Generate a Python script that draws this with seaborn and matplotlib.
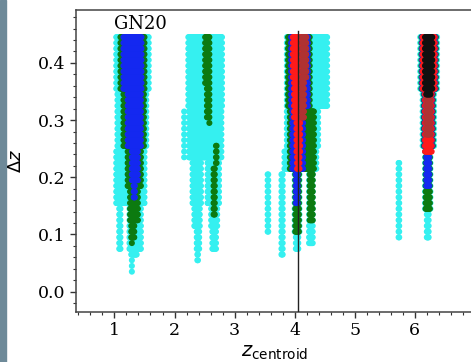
import numpy as np
import pandas as pd
import matplotlib
matplotlib.use("Agg")
import matplotlib.pyplot as plt
import seaborn as sns
from matplotlib.ticker import MultipleLocator
from matplotlib.patches import Rectangle

# ---------------- data ----------------
# Each block: (dz_top, dz_bottom, z_left, z_right) of the point centres on the
# (z_centroid, dz) grid (grid step 0.01 in both directions).
cyan_blocks = [
    # cluster near z~1.3
    (0.445, 0.355, 1.03, 1.57),
    (0.345, 0.255, 1.05, 1.53),
    (0.245, 0.155, 1.03, 1.50),
    (0.145, 0.075, 1.08, 1.10),
    (0.145, 0.075, 1.25, 1.44),
    (0.065, 0.065, 1.28, 1.37),
    (0.055, 0.035, 1.29, 1.29),
    # cluster near z~2.5
    (0.445, 0.325, 2.23, 2.79),
    (0.315, 0.235, 2.16, 2.16),
    (0.315, 0.235, 2.24, 2.78),
    (0.225, 0.155, 2.30, 2.44),
    (0.225, 0.155, 2.55, 2.74),
    (0.145, 0.115, 2.33, 2.42),
    (0.145, 0.115, 2.61, 2.71),
    (0.105, 0.075, 2.37, 2.41),
    (0.105, 0.075, 2.63, 2.69),
    (0.065, 0.055, 2.38, 2.39),
    # cluster near z~4.1
    (0.445, 0.325, 3.87, 4.54),
    (0.315, 0.255, 3.87, 4.39),
    (0.245, 0.215, 3.83, 4.36),
    (0.205, 0.065, 3.78, 3.80),
    (0.205, 0.105, 3.55, 3.56),
    (0.205, 0.105, 4.00, 4.08),
    (0.095, 0.075, 4.02, 4.06),
    (0.205, 0.085, 4.24, 4.30),
    # cluster near z~6.2
    (0.445, 0.355, 6.09, 6.37),
    (0.345, 0.255, 6.13, 6.32),
    (0.245, 0.145, 6.17, 6.26),
    (0.135, 0.095, 6.20, 6.23),
    (0.225, 0.095, 5.73, 5.74),
]
green_blocks = [
    (0.445, 0.355, 1.10, 1.50),
    (0.345, 0.255, 1.15, 1.49),
    (0.245, 0.185, 1.22, 1.44),
    (0.175, 0.125, 1.26, 1.39),
    (0.115, 0.095, 1.28, 1.33),
    (0.085, 0.085, 1.29, 1.29),
    (0.445, 0.365, 2.51, 2.58),
    (0.355, 0.305, 2.54, 2.58),
    (0.295, 0.295, 2.58, 2.58),
    (0.255, 0.225, 2.69, 2.70),
    (0.215, 0.135, 2.65, 2.67),
    (0.445, 0.325, 3.89, 4.25),
    (0.315, 0.215, 3.92, 4.32),
    (0.205, 0.105, 4.01, 4.07),
    (0.205, 0.125, 4.25, 4.30),
    (0.445, 0.355, 6.11, 6.35),
    (0.345, 0.255, 6.15, 6.30),
    (0.245, 0.145, 6.18, 6.25),
]
blue_blocks = [
    (0.445, 0.355, 1.15, 1.45),
    (0.345, 0.255, 1.22, 1.44),
    (0.245, 0.195, 1.29, 1.39),
    (0.185, 0.165, 1.32, 1.34),
    (0.445, 0.325, 3.94, 4.22),
    (0.315, 0.215, 3.96, 4.14),
    (0.205, 0.155, 4.02, 4.05),
    (0.445, 0.355, 6.12, 6.34),
    (0.345, 0.255, 6.16, 6.29),
    (0.245, 0.185, 6.19, 6.24),
]
red_blocks = [
    (0.445, 0.375, 3.97, 4.19),
    (0.365, 0.305, 3.99, 4.15),
    (0.295, 0.245, 4.03, 4.09),
    (0.235, 0.215, 4.04, 4.08),
    (0.445, 0.355, 6.13, 6.33),
    (0.345, 0.245, 6.17, 6.28),
]
brown_blocks = [
    (0.445, 0.375, 4.12, 4.19),
    (0.365, 0.305, 4.11, 4.15),
    (0.335, 0.275, 6.19, 6.26),
]
black_blocks = [
    (0.445, 0.355, 6.17, 6.29),
    (0.345, 0.345, 6.19, 6.26),
]
z_gn20 = 4.06
line_top = 0.455

layer_names = ["cyan", "green", "blue", "red", "brown", "black"]
layer_blocks = [cyan_blocks, green_blocks, blue_blocks, red_blocks, brown_blocks, black_blocks]
palette = {"cyan": "#35f0f0", "green": "#0c7a10", "blue": "#1428f0",
           "red": "#ff1a1a", "brown": "#b03232", "black": "#101010"}

rows = []
for name, blocks in zip(layer_names, layer_blocks):
    for top, bot, xl, xr in blocks:
        for dz in np.arange(bot, top + 0.004, 0.01):
            for z in np.arange(xl, xr + 0.004, 0.01):
                rows.append((round(z, 3), round(dz, 3), name))
df = pd.DataFrame(rows, columns=["z", "dz", "layer"])

# ---------------- figure ----------------
plt.rcParams["font.family"] = ["DejaVu Serif"]
plt.rcParams["mathtext.fontset"] = "dejavusans"

fig = plt.figure(figsize=(4.71, 3.62), dpi=100)
ax = fig.add_axes([76 / 471, (362 - 311.7) / 362, (474 - 76) / 471, (311.7 - 10) / 362])

sns.scatterplot(data=df, x="z", y="dz", hue="layer", palette=palette,
                s=19, linewidth=0, legend=False, ax=ax, zorder=2)

ax.plot([z_gn20, z_gn20], [-0.05, line_top], color="#222222", lw=1.0, zorder=3)

ax.set_xlim(0.36, 6.985)
ax.set_ylim(-0.035, 0.4925)
ax.xaxis.set_major_locator(MultipleLocator(1))
ax.xaxis.set_minor_locator(MultipleLocator(0.2))
ax.yaxis.set_major_locator(MultipleLocator(0.1))
ax.yaxis.set_minor_locator(MultipleLocator(0.02))
ax.tick_params(which="major", length=4, width=1, labelsize=12.5, color="#333333")
ax.tick_params(which="minor", length=2, width=0.8, color="#333333")
for sp in ax.spines.values():
    sp.set_color("#444444")
    sp.set_linewidth(1.1)

ax.set_xlabel(r"$z_{\rm centroid}$", fontsize=14, labelpad=3)
ax.set_ylabel(r"$\Delta z$", fontsize=13, labelpad=9)
ax.text(1.0, 0.468, "GN20", fontsize=13, ha="left", va="center")

fig.patches.append(Rectangle((0, 0), 6 / 471, 1, transform=fig.transFigure,
                             color="#6e8a99", zorder=-1))

fig.savefig("out.png", dpi=100)
